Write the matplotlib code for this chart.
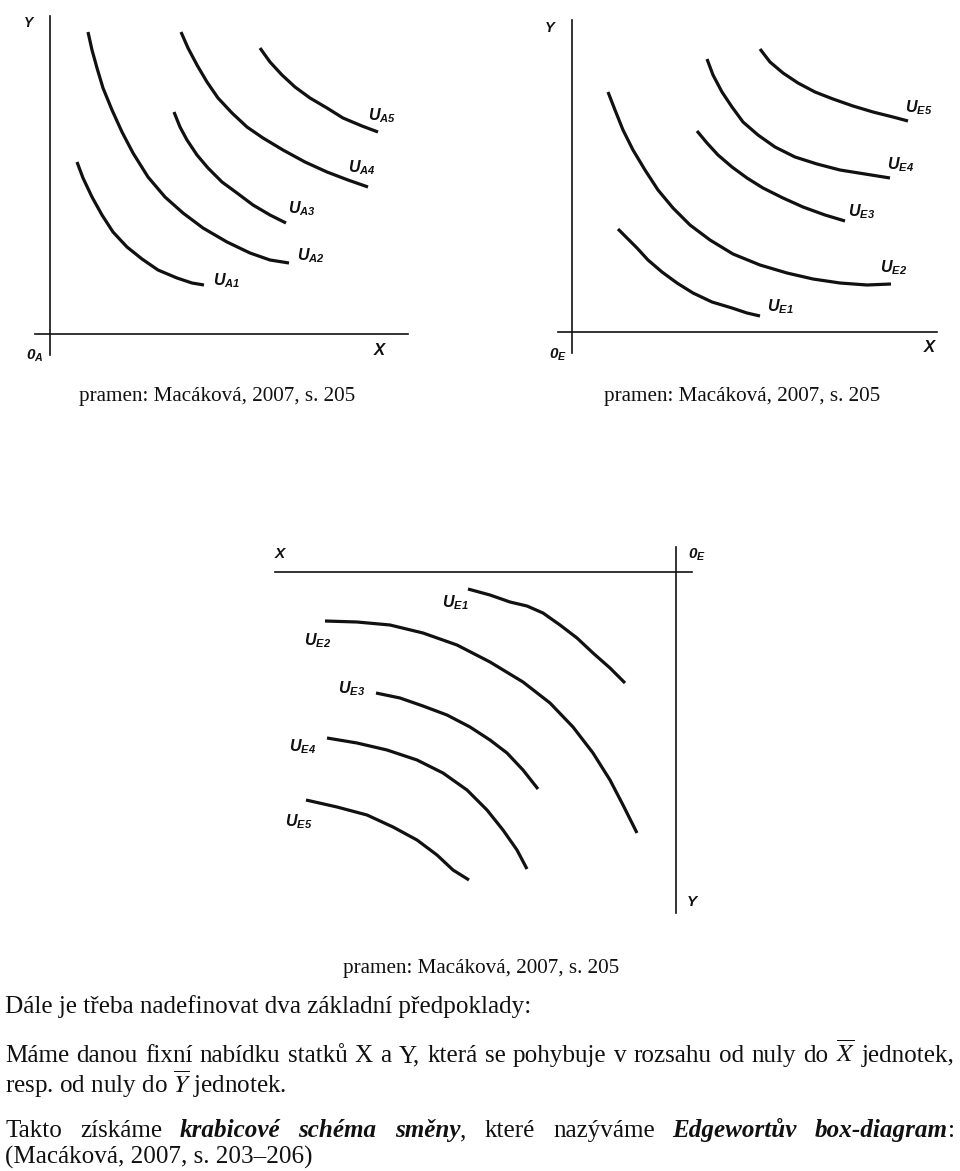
import matplotlib.pyplot as plt

plt.rcParams['mathtext.fontset'] = 'custom'
plt.rcParams['mathtext.it'] = 'Liberation Sans:italic:bold'
plt.rcParams['mathtext.rm'] = 'Liberation Sans:italic:bold'
plt.rcParams['mathtext.bf'] = 'Liberation Sans:italic:bold'

W, H = 960, 1171
INK = '#111111'

# --- diagram A: consumer A indifference curves (origin 0_A) ---
a_names = ['A1', 'A2', 'A3', 'A4', 'A5']
a_x = [[27, 33, 42, 52, 63, 77, 92, 108, 127, 142, 154],
       [38, 42, 47, 53, 62, 72, 83, 98, 115, 133, 153, 177, 200, 220, 239],
       [124, 130, 137, 147, 158, 172, 187, 203, 220, 236],
       [131, 138, 147, 157, 168, 182, 197, 213, 233, 255, 277, 298, 318],
       [210, 220, 232, 245, 260, 277, 293, 312, 328]]
a_y = [[172, 156, 137, 119, 102, 87, 75, 64, 56, 51, 49],
       [302, 284, 266, 246, 224, 202, 181, 157, 137, 121, 106, 92, 81, 74, 71],
       [222, 207, 194, 179, 166, 152, 141, 129, 119, 111],
       [302, 286, 269, 252, 236, 221, 207, 196, 184, 172, 162, 154, 147],
       [286, 272, 259, 247, 236, 226, 216, 208, 202]]
a_lab_x = [163, 247, 238, 298, 318]
a_lab_y = [53, 78, 125, 166, 218]

# --- diagram E: consumer E indifference curves (origin 0_E) ---
e_names = ['E1', 'E2', 'E3', 'E4', 'E5']
e_x = [[46, 55, 65, 76, 90, 105, 121, 140, 160, 175, 188],
       [36, 43, 51, 61, 73, 86, 101, 118, 138, 161, 188, 215, 241, 268, 295, 319],
       [125, 135, 146, 160, 175, 191, 211, 231, 253, 273],
       [135, 141, 150, 160, 171, 186, 203, 223, 245, 268, 293, 318],
       [188, 198, 211, 226, 243, 261, 281, 301, 321, 336]]
e_y = [[103, 94, 84, 72, 60, 49, 39, 30, 24, 19, 16],
       [240, 222, 202, 182, 162, 142, 124, 107, 92, 78, 67, 59, 53, 49, 47, 48],
       [201, 189, 177, 165, 154, 144, 134, 125, 117, 111],
       [273, 257, 240, 225, 210, 197, 185, 175, 168, 162, 158, 154],
       [283, 270, 259, 249, 240, 233, 226, 220, 215, 211]]
e_lab_x = [195, 308, 276, 315, 333]
e_lab_y = [25, 64, 120, 167, 224]

# --- diagram E rotated (Edgeworth box corner, origin 0_E top right) ---
r_x = [[208, 186, 166, 149, 133, 116, 99, 83, 66, 51],
       [351, 319, 286, 253, 219, 186, 153, 126, 103, 83, 66, 53, 39],
       [300, 276, 253, 229, 206, 186, 169, 153, 138],
       [349, 319, 289, 259, 233, 209, 189, 173, 159, 149],
       [370, 339, 309, 283, 259, 239, 223, 207]]
r_y = [[17, 23, 30, 34, 41, 53, 66, 81, 96, 111],
       [49, 50, 53, 61, 73, 90, 110, 131, 155, 181, 208, 233, 261],
       [121, 126, 134, 143, 155, 168, 181, 198, 217],
       [166, 171, 178, 188, 201, 218, 238, 258, 278, 297],
       [228, 235, 243, 255, 268, 283, 298, 308]]
r_lab_x = [234, 372, 338, 387, 391]
r_lab_y = [31, 69, 117, 175, 250]

caption = 'pramen: Macáková, 2007, s. 205'

fig = plt.figure(figsize=(W / 100, H / 100), dpi=100)


def make_ax(left, top, width, height, xlim, ylim):
    ax = fig.add_axes([left / W, 1 - (top + height) / H, width / W, height / H])
    ax.set_xlim(*xlim)
    ax.set_ylim(*ylim)
    ax.set_xticks([])
    ax.set_yticks([])
    ax.patch.set_alpha(0)
    for s in ['top', 'right']:
        ax.spines[s].set_visible(False)
    for s in ['left', 'bottom']:
        ax.spines[s].set_position(('data', 0))
        ax.spines[s].set_linewidth(1.2)
        ax.spines[s].set_color(INK)
    return ax


def draw_curves(ax, xs, ys, names, lx, ly):
    for x, y in zip(xs, ys):
        ax.plot(x, y, color=INK, lw=2.3, solid_capstyle='butt', solid_joinstyle='round')
    for n, x, y in zip(names, lx, ly):
        ax.text(x, y, r'$U_{%s}$' % n, ha='left', va='center', fontsize=11.5, color=INK)


# diagram A
ax1 = make_ax(0, 0, 420, 380, (-50, 370), (-46, 334))
ax1.spines['left'].set_bounds(-21, 318)
ax1.spines['bottom'].set_bounds(-15, 358)
draw_curves(ax1, a_x, a_y, a_names, a_lab_x, a_lab_y)
ax1.text(-21, 311, r'$Y$', ha='center', va='center', fontsize=10, color=INK)
ax1.text(330, -16, r'$X$', ha='center', va='center', fontsize=12, color=INK)
ax1.text(-15, -22, r'$0_A$', ha='center', va='center', fontsize=11, color=INK)

# diagram E
ax2 = make_ax(520, 0, 440, 380, (-52, 388), (-48, 332))
ax2.spines['left'].set_bounds(-21, 312)
ax2.spines['bottom'].set_bounds(-14, 365)
draw_curves(ax2, e_x, e_y, e_names, e_lab_x, e_lab_y)
ax2.text(-22, 305, r'$Y$', ha='center', va='center', fontsize=10.5, color=INK)
ax2.text(358, -15, r'$X$', ha='center', va='center', fontsize=12, color=INK)
ax2.text(-14, -23, r'$0_E$', ha='center', va='center', fontsize=11, color=INK)

# diagram E rotated by 180 degrees
ax3 = make_ax(260, 530, 460, 400, (416, -44), (358, -42))
ax3.spines['left'].set_bounds(-25, 341)
ax3.spines['bottom'].set_bounds(-16, 401)
draw_curves(ax3, r_x, r_y, e_names, r_lab_x, r_lab_y)
ax3.text(395, -18, r'$X$', ha='center', va='center', fontsize=11, color=INK)
ax3.text(-21, -17, r'$0_E$', ha='center', va='center', fontsize=11, color=INK)
ax3.text(-17, 330, r'$Y$', ha='center', va='center', fontsize=11, color=INK)

BODY = 18.1


def ftext(x, y, s, size=BODY, bold=False):
    return fig.text(x / W, 1 - y / H, s, fontsize=size, family='Liberation Serif',
                    math_fontfamily='stix', color=INK, va='baseline',
                    weight='bold' if bold else 'normal',
                    style='italic' if bold else 'normal')


def justify(y, words, left=5, right=955):
    # words: list of pieces [(text, bold), ...]; spaces stretched to fill the line
    r = fig.canvas.get_renderer()
    placed = []
    total = 0
    for w in words:
        pieces = []
        for s, b in w:
            t = ftext(0, y, s, bold=b)
            pieces.append((t, t.get_window_extent(r).width))
            total += pieces[-1][1]
        placed.append(pieces)
    gap = (right - left - total) / (len(words) - 1)
    x = left
    for pieces in placed:
        for t, wd in pieces:
            t.set_x(x / W)
            x += wd
        x += gap


ftext(79, 401, caption, 15.2)
ftext(604, 401, caption, 15.2)
ftext(343, 973, caption, 15.2)

ftext(5, 1013, 'Dále je třeba nadefinovat dva základní předpoklady:')

line1 = ('Máme danou fixní nabídku statků X a Y, která se pohybuje v rozsahu '
         'od nuly do').split() + [r'$\overline{X}$', 'jednotek,']
justify(1062, [[(w, False)] for w in line1])
ftext(5, 1093, r'resp. od nuly do $\overline{Y}$ jednotek.')

line3 = [[('Takto', False)], [('získáme', False)], [('krabicové', True)],
         [('schéma', True)], [('směny', True), (',', False)], [('které', False)],
         [('nazýváme', False)], [('Edgewortův', True)],
         [('box-diagram', True), (':', False)]]
justify(1137, line3)
ftext(5, 1164, '(Macáková, 2007, s. 203–206)')

fig.savefig('out.png', dpi=100)
